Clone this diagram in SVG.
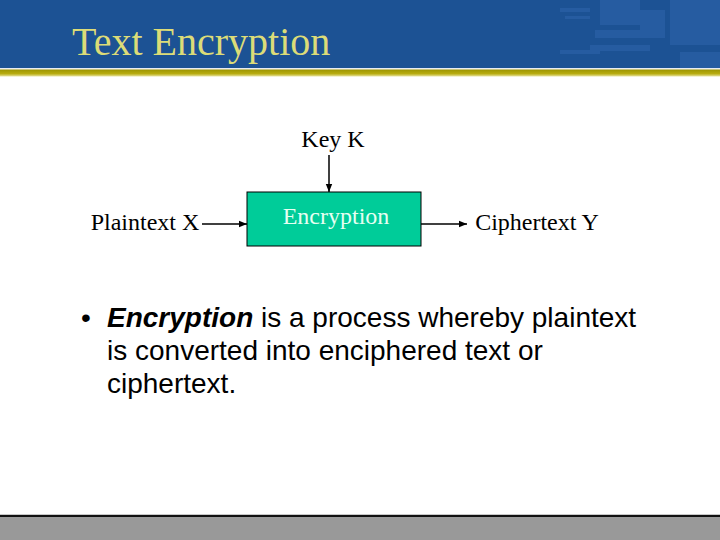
<svg xmlns="http://www.w3.org/2000/svg" width="720" height="540" viewBox="0 0 720 540">
<defs>
<linearGradient id="olive" x1="0" y1="0" x2="0" y2="1">
<stop offset="0" stop-color="#9c9400"/>
<stop offset="0.6" stop-color="#b8ac10"/>
<stop offset="1" stop-color="#e8e4a0"/>
</linearGradient>
<marker id="arr" viewBox="0 0 10 10" refX="10" refY="5" markerWidth="8" markerHeight="8" markerUnits="userSpaceOnUse" orient="auto">
<path d="M0,1 L10,5 L0,9 z" fill="#000"/>
</marker>
<style>
.lbl{font-family:"Liberation Serif","Times New Roman",serif;font-size:24px;fill:#000}
.body{font-family:"Liberation Sans",Arial,sans-serif;font-size:28px;fill:#000}
.conn{stroke:#000;stroke-width:1.5;fill:none;marker-end:url(#arr)}
.deco{fill:#3f74c0;opacity:0.3}
</style>
</defs>
<rect width="720" height="540" fill="#fff"/>
<g id="header">
<rect x="0" y="0" width="720" height="68" fill="#1c5294"/>
<g class="deco">
<rect x="600" y="0" width="40" height="25"/>
<rect x="640" y="10" width="25" height="25"/>
<rect x="670" y="0" width="50" height="45"/>
<rect x="595" y="30" width="70" height="8"/>
<rect x="590" y="45" width="60" height="6"/>
<rect x="680" y="52" width="40" height="16"/>
<rect x="560" y="8" width="30" height="4"/>
<rect x="565" y="16" width="25" height="3"/>
<rect x="560" y="50" width="40" height="4"/>
</g>
<rect x="0" y="68" width="720" height="1.5" fill="#e8ecf0"/>
<rect x="0" y="69.5" width="720" height="7" fill="url(#olive)"/>
<text x="72" y="55" style="font-family:'Liberation Serif','Times New Roman',serif;font-size:40px;fill:#dcdc78">Text Encryption</text>
</g>
<g id="footer">
<rect x="0" y="514" width="720" height="1" fill="#c8c8c8"/>
<rect x="0" y="515" width="720" height="2" fill="#111"/>
<rect x="0" y="517" width="720" height="23" fill="#999"/>
</g>
<g id="connectors">
<line class="conn" x1="329" y1="155" x2="329" y2="192"/>
<line class="conn" x1="202" y1="224" x2="247" y2="224"/>
<line class="conn" x1="421" y1="224" x2="467" y2="224"/>
</g>
<g id="key">
<text class="lbl" x="333" y="147" text-anchor="middle">Key K</text>
</g>
<g id="plaintext">
<text class="lbl" x="145" y="230" text-anchor="middle">Plaintext X</text>
</g>
<g id="encryption">
<rect x="247" y="192" width="174" height="54" fill="#00cc99" stroke="#000" stroke-width="1"/>
<text x="336" y="224" text-anchor="middle" style="font-family:'Liberation Serif','Times New Roman',serif;font-size:24px;fill:#e6fff2">Encryption</text>
</g>
<g id="ciphertext">
<text class="lbl" x="537" y="230" text-anchor="middle">Ciphertext Y</text>
</g>
<g id="bullet">
<text class="body" x="81" y="327">•</text>
<text class="body" x="107" y="327"><tspan font-weight="bold" font-style="italic">Encryption</tspan> is a process whereby plaintext</text>
<text class="body" x="107" y="360">is converted into enciphered text or</text>
<text class="body" x="107" y="393">ciphertext.</text>
</g>
</svg>
